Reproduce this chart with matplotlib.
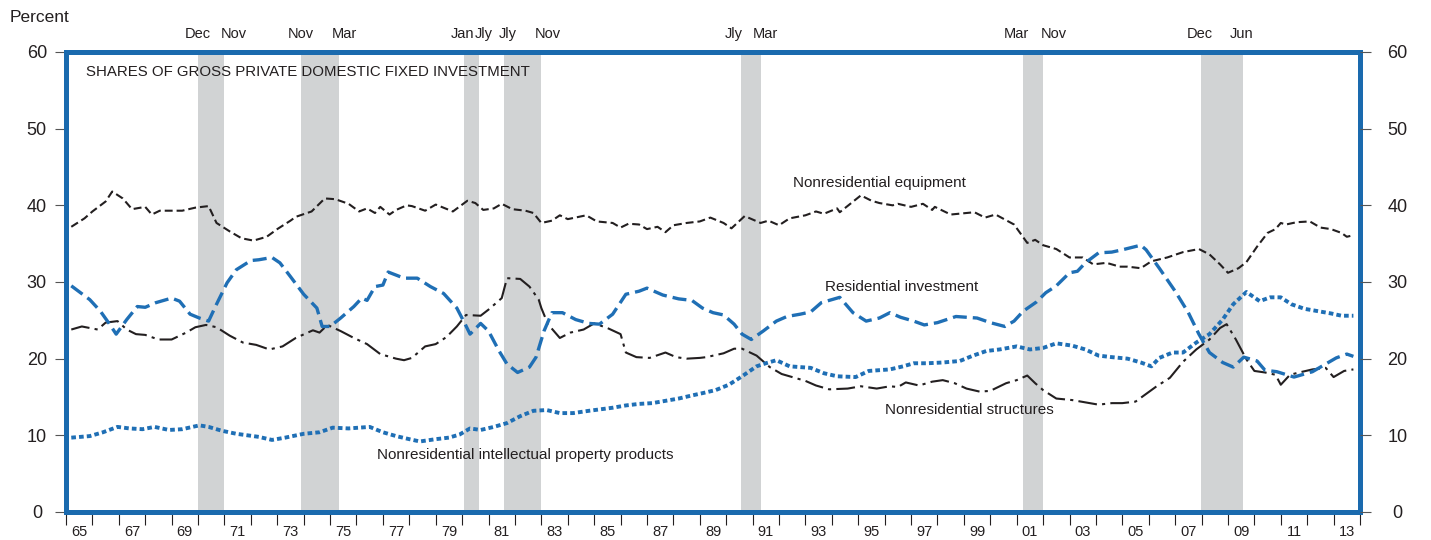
import matplotlib
matplotlib.use("Agg")
import matplotlib.pyplot as plt
from matplotlib.transforms import blended_transform_factory

# Shares of gross private domestic fixed investment (percent)
eq_year = [1965.2, 1965.7, 1966.0, 1966.5, 1966.75, 1967.15, 1967.5, 1968.0, 1968.25, 1968.55,
           1969.4, 1969.9, 1970.4, 1970.7, 1971.2, 1971.65, 1972.1, 1972.6, 1973.0, 1973.5,
           1973.7, 1974.3, 1974.8, 1975.2, 1975.7, 1976.1, 1976.4, 1976.7, 1976.9, 1977.25,
           1977.5, 1977.9, 1978.1, 1978.6, 1979.0, 1979.65, 1980.2, 1980.5, 1980.8, 1981.2,
           1981.5, 1981.9, 1982.4, 1982.7, 1983.0, 1983.4, 1983.7, 1984.0, 1984.7, 1985.1,
           1985.7, 1986.0, 1986.3, 1986.7, 1987.0, 1987.4, 1987.7, 1988.0, 1988.5, 1989.0,
           1989.4, 1989.9, 1990.2, 1990.7, 1991.3, 1991.6, 1992.0, 1992.4, 1993.0, 1993.4,
           1993.7, 1994.2, 1994.3, 1995.1, 1995.5, 1995.8, 1996.3, 1996.5, 1997.0, 1997.45,
           1997.8, 1997.9, 1998.5, 1999.4, 1999.8, 2000.2, 2000.9, 2001.4, 2001.7, 2002.0,
           2002.5, 2003.0, 2003.5, 2003.9, 2004.4, 2004.9, 2005.2, 2005.7, 2006.1, 2006.7,
           2007.3, 2007.9, 2008.3, 2008.7, 2009.0, 2009.4, 2009.7, 2010.1, 2010.5, 2010.8,
           2011.0, 2011.2, 2011.6, 2012.1, 2012.5, 2012.9, 2013.3, 2013.5, 2013.75]
eq_val = [37.2, 38.3, 39.2, 40.5, 41.8, 40.9, 39.5, 39.8, 38.8, 39.3,
          39.3, 39.7, 39.9, 37.7, 36.6, 35.7, 35.4, 35.9, 36.9, 38.0,
          38.5, 39.2, 40.9, 40.8, 40.2, 39.2, 39.6, 39.0, 39.8, 38.8,
          39.4, 40.0, 39.9, 39.3, 40.1, 39.2, 40.6, 40.3, 39.4, 39.6,
          40.2, 39.5, 39.3, 39.0, 37.7, 38.0, 38.7, 38.2, 38.7, 37.9,
          37.7, 37.1, 37.6, 37.5, 36.9, 37.2, 36.5, 37.4, 37.7, 37.9,
          38.4, 37.7, 37.0, 38.6, 37.7, 38.0, 37.4, 38.3, 38.7, 39.2,
          38.9, 39.6, 39.1, 41.3, 40.6, 40.3, 40.0, 40.2, 39.8, 40.2,
          39.4, 39.8, 38.8, 39.1, 38.4, 38.8, 37.5, 35.1, 35.5, 34.8,
          34.3, 33.2, 33.2, 32.3, 32.5, 32.0, 32.0, 31.8, 32.7, 33.2,
          33.9, 34.3, 33.6, 32.3, 31.2, 31.8, 32.6, 34.6, 36.4, 36.9,
          37.7, 37.5, 37.8, 37.9, 37.1, 36.9, 36.4, 35.9, 36.1]

res_year = [1965.2, 1965.9, 1966.3, 1966.65, 1966.9, 1967.3, 1967.7, 1968.0, 1968.4, 1969.0,
            1969.3, 1969.7, 1970.05, 1970.4, 1970.7, 1971.1, 1971.45, 1972.0, 1972.3, 1972.8,
            1973.1, 1973.5, 1974.0, 1974.5, 1974.7, 1975.0, 1975.4, 1975.9, 1976.2, 1976.4,
            1976.7, 1977.0, 1977.2, 1977.5, 1977.8, 1978.3, 1978.8, 1979.3, 1979.8, 1980.1,
            1980.3, 1980.7, 1981.0, 1981.4, 1981.7, 1982.1, 1982.55, 1982.8, 1983.1, 1983.4,
            1983.8, 1984.3, 1984.8, 1985.2, 1985.7, 1986.2, 1986.7, 1987.0, 1987.6, 1988.2,
            1988.7, 1989.1, 1989.5, 1989.9, 1990.3, 1990.6, 1990.95, 1991.4, 1991.9, 1992.3,
            1992.8, 1993.2, 1993.6, 1994.3, 1994.8, 1995.3, 1995.8, 1996.2, 1996.6, 1997.1,
            1997.5, 1998.0, 1998.7, 1999.5, 2000.0, 2000.55, 2000.9, 2001.25, 2001.75, 2002.1,
            2002.5, 2003.0, 2003.3, 2003.6, 2004.1, 2004.6, 2005.0, 2005.7, 2005.9, 2006.4,
            2007.0, 2007.5, 2007.9, 2008.3, 2008.8, 2009.2, 2009.6, 2010.1, 2010.4, 2010.85,
            2011.5, 2012.2, 2012.7, 2013.1, 2013.5, 2013.75]
res_val = [29.5, 27.7, 26.2, 24.5, 23.2, 25.1, 26.8, 26.7, 27.3, 27.9,
           27.5, 25.8, 25.3, 24.9, 27.1, 29.9, 31.6, 32.8, 32.9, 33.2,
           32.5, 30.7, 28.4, 26.6, 24.2, 24.2, 25.3, 26.8, 27.9, 27.6,
           29.4, 29.6, 31.3, 30.9, 30.5, 30.5, 29.4, 28.5, 26.6, 24.6,
           23.2, 24.6, 23.6, 21.0, 19.3, 18.2, 18.9, 20.2, 23.6, 26.0,
           26.0, 25.1, 24.6, 24.5, 25.8, 28.4, 28.8, 29.2, 28.3, 27.8,
           27.6, 26.6, 26.0, 25.7, 24.5, 23.2, 22.5, 23.6, 24.9, 25.5,
           25.8, 26.1, 27.3, 28.0, 26.0, 24.9, 25.3, 26.0, 25.4, 24.9,
           24.4, 24.7, 25.5, 25.3, 24.7, 24.2, 24.9, 26.2, 27.4, 28.6,
           29.5, 31.2, 31.4, 32.5, 33.8, 33.9, 34.2, 34.8, 34.2, 31.8,
           28.8, 26.0, 23.2, 20.8, 19.5, 18.9, 20.2, 19.7, 18.5, 18.3,
           17.6, 18.3, 19.3, 20.1, 20.6, 20.3]

str_year = [1965.2, 1965.6, 1966.2, 1966.5, 1966.95, 1967.3, 1967.65, 1968.0, 1968.5, 1969.0,
            1969.55, 1969.9, 1970.3, 1970.7, 1971.2, 1971.7, 1972.2, 1972.7, 1973.2, 1973.7,
            1974.35, 1974.6, 1974.9, 1975.4, 1975.9, 1976.4, 1976.9, 1977.5, 1977.8, 1978.1,
            1978.6, 1979.0, 1979.4, 1979.8, 1980.15, 1980.7, 1981.0, 1981.5, 1981.7, 1982.2,
            1982.55, 1982.9, 1983.0, 1983.25, 1983.7, 1984.1, 1984.6, 1985.0, 1985.5, 1986.0,
            1986.2, 1986.6, 1987.1, 1987.7, 1988.1, 1988.5, 1989.0, 1989.25, 1989.9, 1990.3,
            1990.6, 1991.15, 1991.65, 1992.1, 1992.5, 1993.0, 1993.4, 1993.9, 1994.6, 1995.1,
            1995.7, 1996.2, 1996.5, 1996.8, 1997.3, 1997.8, 1998.2, 1998.65, 1999.1, 1999.6,
            2000.0, 2000.6, 2001.0, 2001.4, 2001.7, 2002.0, 2002.5, 2003.1, 2003.6, 2004.1,
            2004.6, 2005.0, 2005.5, 2006.3, 2006.8, 2007.3, 2007.8, 2008.3, 2008.7, 2008.95,
            2009.3, 2009.7, 2010.0, 2010.4, 2010.8, 2011.0, 2011.35, 2011.7, 2012.2, 2012.7,
            2013.0, 2013.4, 2013.75]
str_val = [23.8, 24.2, 23.8, 24.7, 24.9, 23.8, 23.2, 23.1, 22.5, 22.5,
           23.4, 24.1, 24.4, 24.1, 23.0, 22.1, 21.8, 21.2, 21.6, 22.7,
           23.7, 23.4, 24.4, 23.6, 22.7, 21.9, 20.6, 20.0, 19.8, 20.1,
           21.6, 21.9, 22.8, 24.2, 25.7, 25.6, 26.4, 27.9, 30.5, 30.4,
           29.4, 27.7, 26.6, 24.5, 22.7, 23.4, 23.8, 24.6, 24.0, 23.2,
           20.8, 20.2, 20.1, 20.8, 20.2, 20.0, 20.1, 20.2, 20.7, 21.3,
           21.3, 20.4, 18.9, 18.0, 17.6, 17.1, 16.5, 16.0, 16.1, 16.4,
           16.1, 16.4, 16.3, 16.9, 16.5, 17.0, 17.2, 16.8, 16.1, 15.7,
           15.8, 16.8, 17.2, 17.8, 16.8, 15.9, 14.8, 14.6, 14.3, 14.0,
           14.2, 14.2, 14.4, 16.4, 17.5, 19.6, 21.2, 22.5, 24.0, 24.5,
           22.5, 19.9, 18.4, 18.2, 17.9, 16.6, 17.9, 18.2, 18.6, 18.8,
           17.6, 18.4, 18.6]

ipp_year = [1965.2, 1965.9, 1966.4, 1966.95, 1967.4, 1967.9, 1968.35, 1968.9, 1969.4, 1970.05,
            1970.4, 1970.9, 1971.45, 1972.3, 1972.8, 1973.3, 1974.0, 1974.6, 1975.1, 1975.7,
            1976.5, 1977.0, 1977.5, 1978.0, 1978.4, 1979.0, 1979.5, 1979.9, 1980.3, 1980.7,
            1981.2, 1981.7, 1982.2, 1982.7, 1983.2, 1983.7, 1984.2, 1984.8, 1985.7, 1986.2,
            1986.7, 1987.2, 1987.7, 1988.2, 1988.7, 1989.1, 1989.6, 1990.1, 1990.6, 1991.15,
            1991.5, 1991.9, 1992.4, 1993.2, 1993.7, 1994.2, 1994.9, 1995.4, 1996.2, 1996.7,
            1997.1, 1997.6, 1998.2, 1998.85, 1999.35, 1999.85, 2000.35, 2001.0, 2001.5, 2002.0,
            2002.5, 2003.1, 2003.6, 2004.1, 2004.6, 2005.2, 2005.7, 2006.1, 2006.4, 2006.9,
            2007.3, 2007.8, 2008.3, 2008.8, 2009.2, 2009.7, 2010.2, 2010.6, 2011.0, 2011.4,
            2011.9, 2012.4, 2012.9, 2013.3, 2013.75]
ipp_val = [9.7, 9.9, 10.4, 11.1, 10.9, 10.8, 11.1, 10.7, 10.8, 11.3,
           11.1, 10.6, 10.2, 9.8, 9.4, 9.7, 10.2, 10.4, 11.0, 10.9,
           11.1, 10.4, 9.9, 9.5, 9.2, 9.5, 9.7, 10.1, 10.9, 10.7,
           11.1, 11.6, 12.5, 13.2, 13.3, 12.9, 12.9, 13.2, 13.6, 13.9,
           14.1, 14.2, 14.5, 14.8, 15.2, 15.5, 15.9, 16.6, 17.7, 19.0,
           19.4, 19.8, 19.0, 18.8, 18.1, 17.7, 17.6, 18.4, 18.6, 19.0,
           19.4, 19.4, 19.5, 19.7, 20.4, 21.0, 21.2, 21.6, 21.2, 21.4,
           22.0, 21.7, 21.2, 20.4, 20.2, 20.0, 19.5, 19.0, 20.1, 20.8,
           20.8, 22.1, 23.2, 25.1, 27.1, 28.7, 27.5, 28.0, 28.0, 27.1,
           26.5, 26.2, 25.9, 25.6, 25.6]

# Recessions (start month, end month)
rec_start = [(1969, 12), (1973, 11), (1980, 1), (1981, 7), (1990, 7), (2001, 3), (2007, 12)]
rec_end = [(1970, 11), (1975, 3), (1980, 7), (1982, 11), (1991, 3), (2001, 11), (2009, 6)]
month_names = {1: "Jan", 3: "Mar", 6: "Jun", 7: "Jly", 11: "Nov", 12: "Dec"}

year_ticks = list(range(1965, 2015))
year_labels = [f"{y % 100:02d}" for y in range(1965, 2014, 2)]

# nudges (pixels) for the month labels so neighbours don't collide
start_nudge = [0, 0, -1, 4, -7, -7, -1]
end_nudge = [10, 6, 4, 7, 4, 11, -1]

BLUE = "#1a6aae"
LINE_BLUE = "#1f6fb5"
INK = "#231f20"
GRAY = "#d1d3d4"

plt.rcParams["font.family"] = ["Liberation Sans", "DejaVu Sans"]

fig = plt.figure(figsize=(14.31, 5.40), dpi=100)
ax = fig.add_axes([66 / 1431, 1 - 512 / 540, (1360 - 66) / 1431, (512 - 52) / 540])
ax.set_xlim(1965, 2014)
ax.set_ylim(0, 60)

# recession shading and month labels
top = blended_transform_factory(ax.transData, ax.transAxes)
for i, ((ys, ms), (ye, me)) in enumerate(zip(rec_start, rec_end)):
    x0 = ys + (ms - 1) / 12 + 0.07
    x1 = ye + me / 12 + 0.07
    ax.axvspan(x0, x1, color=GRAY, lw=0, zorder=0)
    ax.annotate(month_names[ms], (x0, 1.039), xycoords=top, xytext=(start_nudge[i] * 0.72, 0),
                textcoords="offset points", ha="center", va="center", fontsize=10.5,
                color=INK, annotation_clip=False)
    ax.annotate(month_names[me], (x1, 1.039), xycoords=top, xytext=(end_nudge[i] * 0.72, 0),
                textcoords="offset points", ha="center", va="center", fontsize=10.5,
                color=INK, annotation_clip=False)

# series
ax.plot(eq_year, eq_val, color=INK, lw=1.5, dashes=(3.8, 1.9), dash_capstyle="butt", zorder=3)
ax.plot(str_year, str_val, color=INK, lw=1.5, dashes=(9, 2.5, 1.5, 2.5), dash_capstyle="butt", zorder=3)
ax.plot(res_year, res_val, color=LINE_BLUE, lw=2.4, dashes=(4.2, 1.8), dash_capstyle="butt", zorder=4)
ax.plot(ipp_year, ipp_val, color=LINE_BLUE, lw=2.8, dashes=(1.2, 0.8), dash_capstyle="butt", zorder=4)

# series labels
ax.text(1992.52, 42.9, "Nonresidential equipment", fontsize=11, color=INK, va="center")
ax.text(1993.73, 29.3, "Residential investment", fontsize=11, color=INK, va="center")
ax.text(1996.0, 13.3, "Nonresidential structures", fontsize=11, color=INK, va="center")
ax.text(1976.76, 7.5, "Nonresidential intellectual property products", fontsize=11, color=INK, va="center")
ax.text(0.0155, 0.9565, "SHARES OF GROSS PRIVATE DOMESTIC FIXED INVESTMENT",
        transform=ax.transAxes, fontsize=10.8, color=INK, va="center")

# frame
for s in ax.spines.values():
    s.set_color(BLUE)
    s.set_linewidth(3.6)
    s.set_zorder(5)

# x axis: ticks at year boundaries, labels at mid-year
ax.set_xticks(year_ticks, minor=True)
ax.set_xticks([y + 0.5 for y in range(1965, 2014, 2)])
ax.set_xticklabels(year_labels)
ax.tick_params(axis="x", which="minor", direction="out", length=9, width=0.8, color=INK)
ax.tick_params(axis="x", which="major", length=0, pad=9, labelsize=10.5, labelcolor=INK)

# y axis: left and right labels
yt = list(range(0, 61, 10))
ax.set_yticks(yt)
ax.set_yticklabels([str(v) for v in yt])
ax.tick_params(axis="y", direction="out", length=8, width=0.8, color="#555555",
               pad=13, labelsize=13, labelcolor=INK)
for lab in ax.get_yticklabels():
    lab.set_horizontalalignment("center")

ax2 = ax.twinx()
ax2.set_ylim(0, 60)
ax2.set_yticks(yt)
ax2.set_yticklabels([str(v) for v in yt])
ax2.tick_params(axis="y", direction="out", length=8, width=0.8, color="#555555",
                pad=19, labelsize=13, labelcolor=INK)
for lab in ax2.get_yticklabels():
    lab.set_horizontalalignment("center")
for s in ax2.spines.values():
    s.set_visible(False)

fig.text(10 / 1431, 1 - 18 / 540, "Percent", fontsize=12.5, color=INK, va="center", ha="left")

fig.savefig("out.png", dpi=100, facecolor="white")
